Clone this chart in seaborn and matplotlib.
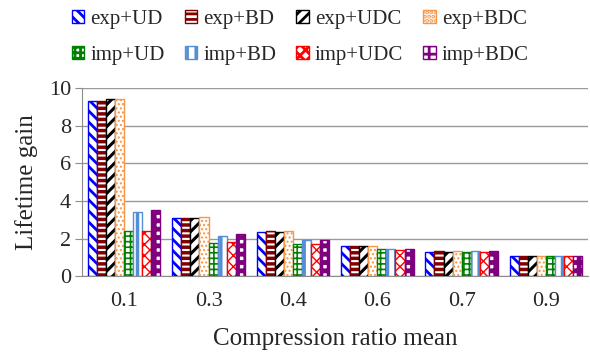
import pandas as pd
import numpy as np
import seaborn as sns
import matplotlib.pyplot as plt
from matplotlib.patches import Patch

# === Data ===
ratios = ["0.1", "0.3", "0.4", "0.6", "0.7", "0.9"]
series = ["exp+UD", "exp+BD", "exp+UDC", "exp+BDC",
          "imp+UD", "imp+BD", "imp+UDC", "imp+BDC"]

exp_ud = [9.33, 3.07, 2.36, 1.61, 1.26, 1.08]
exp_bd = [9.33, 3.07, 2.42, 1.61, 1.32, 1.08]
exp_udc = [9.42, 3.07, 2.36, 1.61, 1.26, 1.08]
exp_bdc = [9.42, 3.14, 2.42, 1.61, 1.32, 1.08]
imp_ud = [2.38, 1.77, 1.70, 1.42, 1.26, 1.08]
imp_bd = [3.43, 2.16, 1.90, 1.46, 1.32, 1.08]
imp_udc = [2.38, 1.80, 1.70, 1.40, 1.26, 1.08]
imp_bdc = [3.50, 2.22, 1.90, 1.46, 1.32, 1.08]

colors = ["#0000ff", "#800000", "#000000", "#f79646",
          "#008000", "#558ed5", "#ff0000", "#7f007f"]
hatches = ["\\\\\\", "---", "///", "....", "+++", "||", "xxx", "++"]
hatch_lw = [2.0, 2.5, 2.2, 1.0, 1.2, 2.5, 1.0, 3.5]

values = [exp_ud, exp_bd, exp_udc, exp_bdc, imp_ud, imp_bd, imp_udc, imp_bdc]
rows = []
for name, vals in zip(series, values):
    for r, v in zip(ratios, vals):
        rows.append({"ratio": r, "series": name, "gain": v})
df = pd.DataFrame(rows)

sns.set_style("white")
plt.rcParams['font.family'] = ['Liberation Serif', 'DejaVu Serif']
plt.rcParams['hatch.linewidth'] = 2.0


def style_bar(bar, k):
    bar.set_facecolor("white")
    bar.set_edgecolor(colors[k])
    bar.set_hatch(hatches[k])
    bar.set_linewidth(1.0)
    if hasattr(bar, "set_hatch_linewidth"):
        bar.set_hatch_linewidth(hatch_lw[k])


fig = plt.figure(figsize=(5.9, 3.54), dpi=100)
ax = fig.add_axes([0.139, 0.22, 0.858, 0.531])

sns.barplot(data=df, x="ratio", y="gain", hue="series", hue_order=series,
            order=ratios, palette=["white"] * 8, width=0.86, ax=ax,
            legend=False, zorder=3)

n = len(ratios)
for i, bar in enumerate(ax.patches[:n * len(series)]):
    style_bar(bar, i // n)

ax.set_ylim(0, 10)
ax.set_yticks(range(0, 11, 2))
ax.yaxis.grid(True, color="#9a9a9a", linewidth=1.0, zorder=0)
for s in ["top", "right"]:
    ax.spines[s].set_visible(False)
for s in ["left", "bottom"]:
    ax.spines[s].set_color("#8c8c8c")
ax.tick_params(axis="y", left=True, length=5, color="#8c8c8c", labelsize=16, pad=3)
ax.tick_params(axis="x", labelsize=16, pad=8)
ax.set_xlabel("Compression ratio mean", fontsize=18, labelpad=12)
ax.set_ylabel("Lifetime gain", fontsize=18, labelpad=8)

# legend is filled column by column, so interleave to get two rows of four
order = [0, 4, 1, 5, 2, 6, 3, 7]
handles = []
for k in order:
    p = Patch(label=series[k])
    style_bar(p, k)
    handles.append(p)
fig.legend(handles, [series[k] for k in order], ncol=4, loc="upper left",
           bbox_to_anchor=(0.09, 1.025), frameon=False, fontsize=15,
           handlelength=0.6, handleheight=0.6, handletextpad=0.3,
           columnspacing=0.95, labelspacing=0.8)

fig.savefig("out.png", dpi=100)
